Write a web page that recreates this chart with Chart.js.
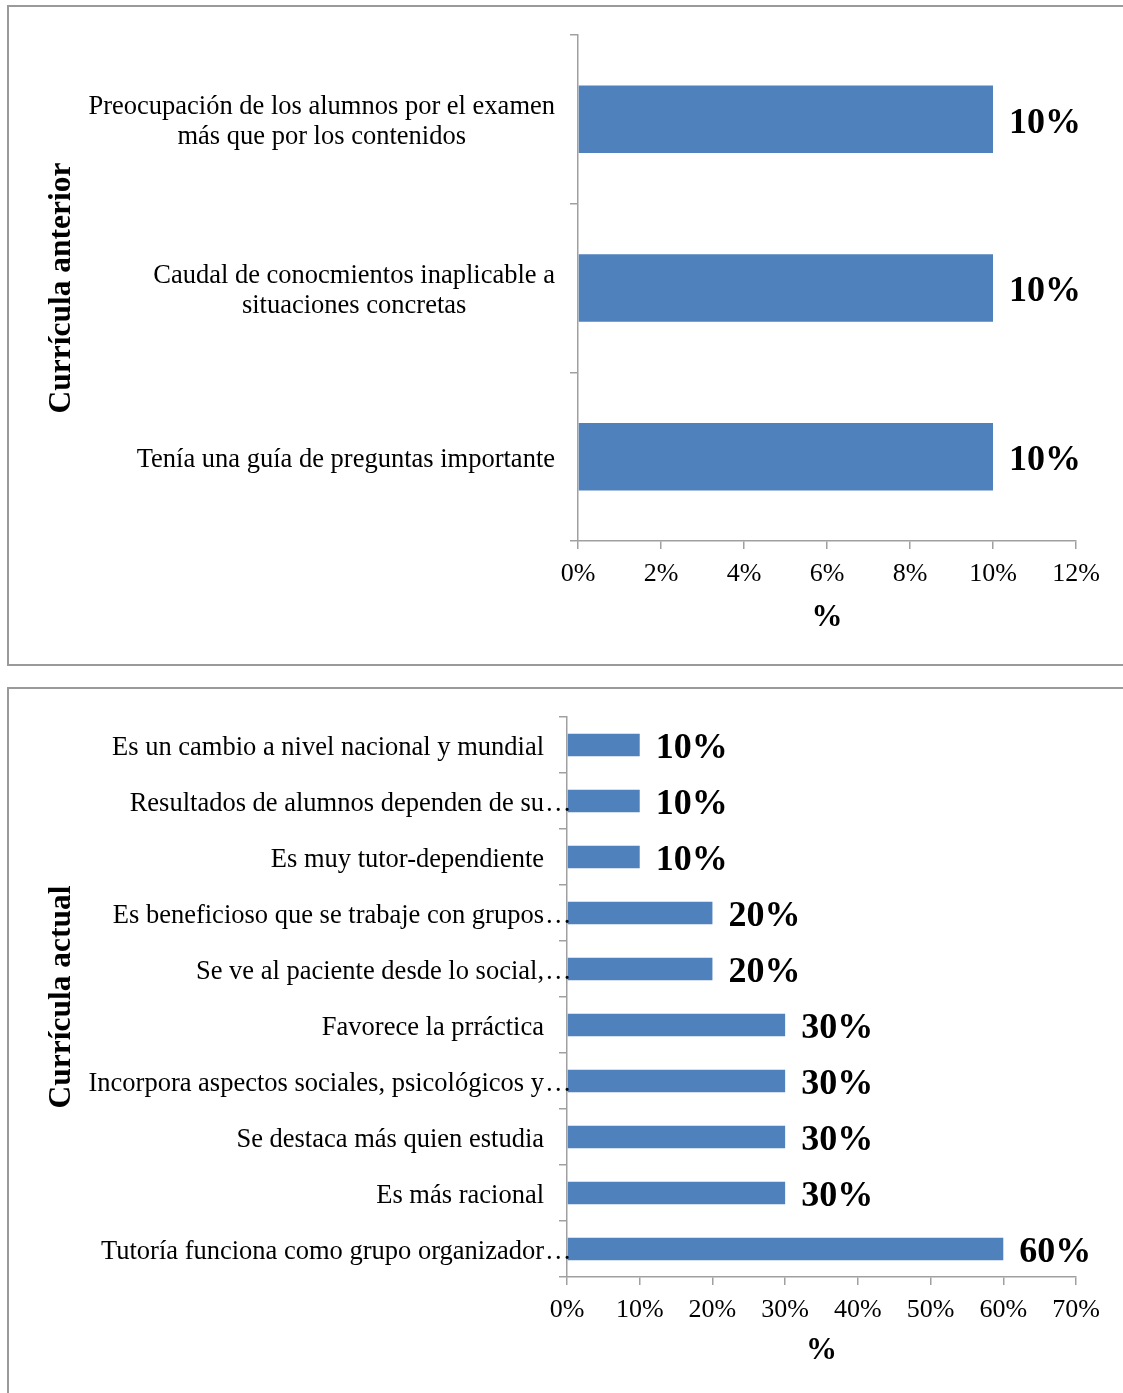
<!DOCTYPE html>
<html>
<head>
<meta charset="utf-8">
<script src="https://cdn.jsdelivr.net/npm/chart.js@4.4.0/dist/chart.umd.min.js"></script>
<style>
  html, body { margin: 0; padding: 0; background: #fff; overflow: hidden; width: 1123px; height: 1393px; }
  .box { position: absolute; border: 2px solid #9a9a9a; box-sizing: border-box; }
  .cv { position: absolute; left: 0; }
</style>
</head>
<body>
<div class="box" style="left:7px; top:5px; width:1140px; height:661px;"></div>
<div class="box" style="left:7px; top:687px; width:1140px; height:720px;"></div>
<div class="cv" style="top:0; width:1123px; height:676px;"><canvas id="c1"></canvas></div>
<div class="cv" style="top:676px; width:1123px; height:717px;"><canvas id="c2"></canvas></div>
<script>
// ---- Data ----
const categoriesAnterior = [
  ["Preocupación de los alumnos por el examen", "más que por los contenidos"],
  ["Caudal de conocmientos inaplicable a", "situaciones concretas"],
  ["Tenía una guía de preguntas importante"]
];
const valuesAnterior = [10, 10, 10];
const ticksAnterior = { max: 12, step: 2 };
const titleAnterior = "Currícula anterior";

const categoriesActual = [
  "Es un cambio a nivel nacional y mundial",
  "Resultados de alumnos dependen de su…",
  "Es muy tutor-dependiente",
  "Es beneficioso que se trabaje con grupos…",
  "Se ve al paciente desde lo social,…",
  "Favorece la prráctica",
  "Incorpora aspectos sociales, psicológicos y…",
  "Se destaca más quien estudia",
  "Es más racional",
  "Tutoría funciona como grupo organizador…"
];
const valuesActual = [10, 10, 10, 20, 20, 30, 30, 30, 30, 60];
const ticksActual = { max: 70, step: 10 };
const titleActual = "Currícula actual";
const xTitle = "%";

const SERIF = "'Liberation Serif', 'Times New Roman', serif";
const BAR = "#4F81BD";
const AXIS = "#a0a0a0";

// plugin: category labels (block right-aligned, lines centered) + value labels
const labelPlugin = {
  id: 'labelPlugin',
  afterDraw(chart, args, opts) {
    const ctx = chart.ctx;
    const yScale = chart.scales.y;
    const labels = chart.data.labels;
    ctx.save();
    ctx.fillStyle = '#000';
    ctx.font = "26.5px " + SERIF;
    ctx.textBaseline = 'middle';
    const lineH = 30;
    labels.forEach((lab, i) => {
      const lines = Array.isArray(lab) ? lab : [lab];
      const yc = yScale.getPixelForTick(i);
      const right = opts.labelRight;
      let widths = lines.map(l => ctx.measureText(l.replace(/…$/, '')).width);
      const maxW = Math.max(...widths);
      const cx = right - maxW / 2;
      lines.forEach((l, j) => {
        const y = yc + (j - (lines.length - 1) / 2) * lineH + 3;
        if (l.endsWith('…')) {
          const main = l.slice(0, -1);
          ctx.textAlign = 'right';
          ctx.fillText(main, right, y);
          ctx.textAlign = 'left';
          ctx.fillText('…', right + 1, y);
        } else if (lines.length === 1) {
          ctx.textAlign = 'right';
          ctx.fillText(l, right, y);
        } else {
          ctx.textAlign = 'center';
          ctx.fillText(l, cx, y);
        }
      });
    });
    // value labels
    ctx.font = "bold 36px " + SERIF;
    ctx.textAlign = 'left';
    const meta = chart.getDatasetMeta(0);
    meta.data.forEach((bar, i) => {
      const v = chart.data.datasets[0].data[i];
      ctx.fillText(v + '%', bar.x + 16, bar.y + 4);
    });
    ctx.restore();
  }
};

function makeChart(id, labels, values, tk, yTitle, cfg) {
  return new Chart(document.getElementById(id), {
    type: 'bar',
    data: {
      labels: labels,
      datasets: [{ data: values, backgroundColor: BAR, borderWidth: 0,
        categoryPercentage: 0.8, barPercentage: 0.5 }]
    },
    plugins: [labelPlugin],
    options: {
      indexAxis: 'y',
      responsive: true,
      maintainAspectRatio: false,
      animation: false,
      events: [],
      layout: { padding: { top: cfg.top, right: 47, bottom: cfg.bottom, left: 0 } },
      plugins: {
        legend: { display: false },
        tooltip: { enabled: false },
        labelPlugin: { labelRight: cfg.labelRight }
      },
      scales: {
        x: {
          min: 0, max: tk.max,
          ticks: { stepSize: tk.step, callback: v => v + '%', color: '#000',
            font: { family: SERIF, size: 26 }, padding: 10, maxRotation: 0 },
          grid: { drawOnChartArea: false, color: AXIS, tickLength: 8, lineWidth: 1.5 },
          border: { color: AXIS, width: 1.5 },
          title: { display: true, text: xTitle, color: '#000',
            font: { family: SERIF, size: 31, weight: 'bold' }, padding: { top: 0, bottom: cfg.xTitlePad } },
          afterFit(s) { s.height = cfg.xHeight; }
        },
        y: {
          ticks: { display: false },
          grid: { drawOnChartArea: false, color: AXIS, tickLength: 8, lineWidth: 1.5, offset: true },
          border: { color: AXIS, width: 1.5 },
          title: { display: true, text: yTitle, color: '#000',
            font: { family: SERIF, size: 31.5, weight: 'bold' }, padding: { top: 43, bottom: 0 } },
          afterFit(s) { s.width = cfg.yWidth; }
        }
      }
    }
  });
}

makeChart('c1', categoriesAnterior, valuesAnterior, ticksAnterior, titleAnterior,
  { top: 35, bottom: 35, xHeight: 100, xTitlePad: 4, yWidth: 578, labelRight: 555 });
makeChart('c2', categoriesActual, valuesActual, ticksActual, titleActual,
  { top: 41, bottom: 17, xHeight: 99, xTitlePad: 6, yWidth: 567, labelRight: 544 });
</script>
</body>
</html>
